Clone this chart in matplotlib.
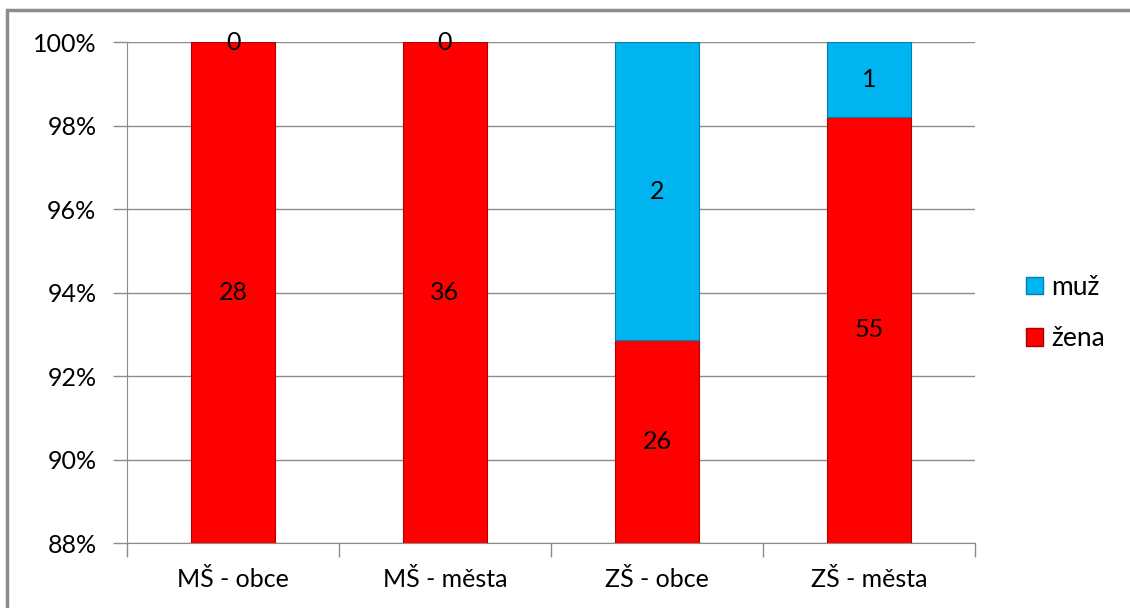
import matplotlib.pyplot as plt
import matplotlib.patches as mpatches
from matplotlib.ticker import FixedLocator, FuncFormatter, NullFormatter

plt.rcParams['font.family'] = ['Lato', 'DejaVu Sans']

categories = ['MŠ - obce', 'MŠ - města', 'ZŠ - obce', 'ZŠ - města']
zena = [28, 36, 26, 55]
muz = [0, 0, 2, 1]

red = '#FF0000'
blue = '#00B4F0'
ymin, ymax = 88, 100

fig = plt.figure(figsize=(11.3, 6.08), dpi=100)
ax = fig.add_axes([0.1124, 0.1069, 0.7504, 0.824])

x = list(range(len(categories)))
zena_pct = [z / (z + m) * 100 for z, m in zip(zena, muz)]
muz_pct = [m / (z + m) * 100 for z, m in zip(zena, muz)]

ax.bar(x, zena_pct, width=0.4, color=red, edgecolor='#B00000', linewidth=0.8,
       label='žena', zorder=3)
# zero-height segments get no outline
ax.bar(x, muz_pct, width=0.4, bottom=zena_pct, color=blue,
       edgecolor=['#0080B0' if m > 0 else 'none' for m in muz],
       linewidth=0.8, label='muž', zorder=3)

# value labels in the middle of the visible part of each segment
for i in x:
    hi = min(zena_pct[i], ymax)
    ax.text(i, (ymin + hi) / 2, str(zena[i]), ha='center', va='center',
            fontsize=18, zorder=5)
    lo2, hi2 = max(zena_pct[i], ymin), min(zena_pct[i] + muz_pct[i], ymax)
    ax.text(i, (lo2 + hi2) / 2, str(muz[i]), ha='center', va='center',
            fontsize=18, zorder=5)

ax.set_xlim(-0.5, len(categories) - 0.5)
ax.set_ylim(ymin, ymax)
ax.set_yticks(range(ymin, ymax + 1, 2))
ax.yaxis.set_major_formatter(FuncFormatter(lambda v, p: f'{v:.0f}%'))
ax.yaxis.grid(True, color='#8C8C8C', linewidth=1, zorder=0)
ax.tick_params(axis='y', length=10, width=1, color='#8C8C8C', labelsize=18, pad=12)

ax.xaxis.set_major_locator(FixedLocator([i - 0.5 for i in range(len(categories) + 1)]))
ax.xaxis.set_major_formatter(NullFormatter())
ax.xaxis.set_minor_locator(FixedLocator(x))
ax.set_xticklabels(categories, minor=True)
ax.tick_params(axis='x', which='major', length=10, width=1, color='#8C8C8C')
ax.tick_params(axis='x', which='minor', length=0, labelsize=18, pad=18)

for s in ['top', 'right']:
    ax.spines[s].set_visible(False)
for s in ['left', 'bottom']:
    ax.spines[s].set_color('#8C8C8C')

handles = [mpatches.Patch(facecolor=blue, edgecolor='#0080B0', label='muž'),
           mpatches.Patch(facecolor=red, edgecolor='#B00000', label='žena')]
fig.legend(handles=handles, loc='center left', bbox_to_anchor=(0.887, 0.485),
           frameon=False, fontsize=19, handlelength=0.65, handleheight=0.65,
           handletextpad=0.3, labelspacing=1.0)

# outer chart border
fig.patches.append(mpatches.Rectangle((7 / 1130, -0.1), 1.2, (598 / 608) + 0.1,
                                      transform=fig.transFigure, fill=False,
                                      edgecolor='#8C8C8C', linewidth=2.5))

fig.savefig('out.png', dpi=100)
